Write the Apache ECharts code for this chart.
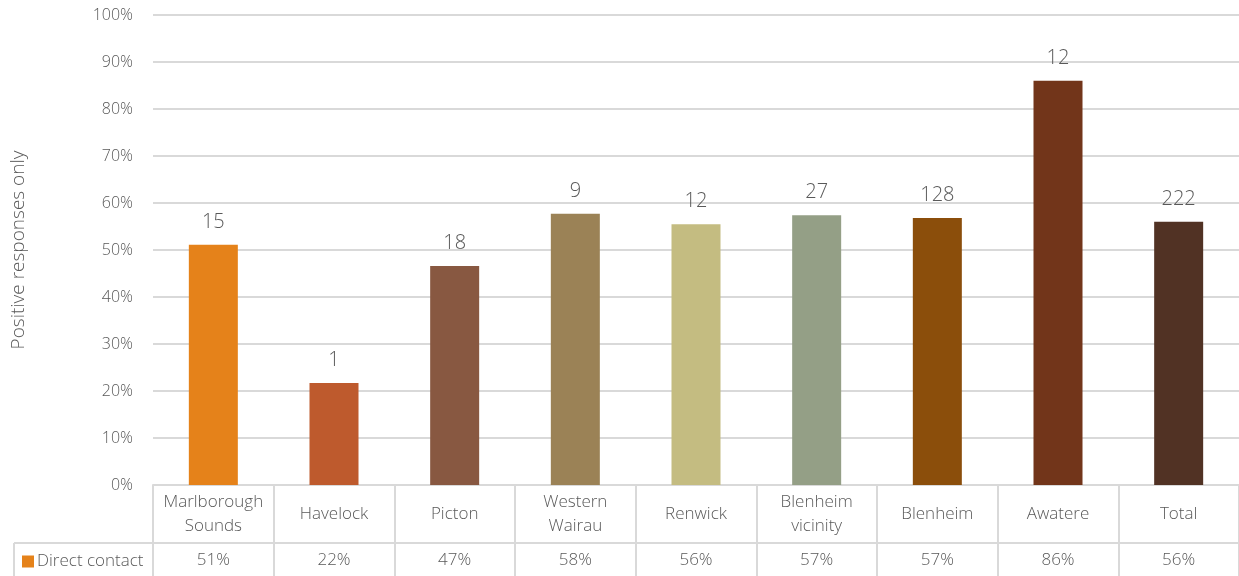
<!DOCTYPE html>
<html>
<head>
<meta charset="utf-8">
<script src="https://cdn.jsdelivr.net/npm/echarts@6/dist/echarts.min.js"></script>
<style>html,body{margin:0;padding:0;background:#fff}#c{width:1239px;height:576px}</style>
</head>
<body>
<div id="c"></div>
<script>
const categories = ['Marlborough\nSounds', 'Havelock', 'Picton', 'Western\nWairau', 'Renwick', 'Blenheim\nvicinity', 'Blenheim', 'Awatere', 'Total'];
const directContact = [51.1, 21.7, 46.6, 57.7, 55.5, 57.4, 56.8, 86.0, 56.0];
const tableValues = ['51%', '22%', '47%', '58%', '56%', '57%', '57%', '86%', '56%'];
const sampleSizes = [15, 1, 18, 9, 12, 27, 128, 12, 222];
const barColors = ['#E5821A', '#BE5A2D', '#885841', '#9B8256', '#C4BC81', '#949F86', '#8B4E0B', '#72351A', '#513224'];
const yTicks = [0, 10, 20, 30, 40, 50, 60, 70, 80, 90, 100];

const FONT = "'Open Sans', 'Noto Sans', sans-serif";
const FW = 300;
const TXT = '#595959';
const LINE = '#d9d9d9';

const chart = echarts.init(document.getElementById('c'), null, {renderer: 'canvas'});
chart.setOption({
  animation: false,
  backgroundColor: '#ffffff',
  textStyle: {fontFamily: FONT, fontWeight: FW},
  grid: {left: 153, right: 0, top: 15, bottom: 91, containLabel: false, outerBoundsMode: 'none'},
  legend: {
    show: true,
    left: 17, top: 548,
    icon: 'rect', itemWidth: 12, itemHeight: 12, itemGap: 4,
    textStyle: {fontFamily: FONT, fontWeight: FW, fontSize: 17, color: TXT, padding: [0, 0, 0, -2]},
    data: ['Direct contact']
  },
  xAxis: [{
    type: 'category',
    data: categories,
    position: 'bottom',
    axisLine: {show: true, lineStyle: {color: LINE, width: 2}},
    axisTick: {show: true, interval: 0, length: 92, lineStyle: {color: LINE, width: 2}},
    axisLabel: {interval: 0, margin: 29, verticalAlign: 'middle', fontFamily: FONT, fontWeight: FW, fontSize: 17, color: TXT, lineHeight: 24}
  }, {
    type: 'category',
    data: tableValues,
    position: 'bottom',
    offset: 58,
    axisLine: {show: true, lineStyle: {color: LINE, width: 2}},
    axisTick: {show: false},
    axisLabel: {interval: 0, margin: 17, verticalAlign: 'middle', fontFamily: FONT, fontWeight: FW, fontSize: 17, color: TXT}
  }],
  yAxis: {
    type: 'value',
    min: yTicks[0], max: yTicks[yTicks.length - 1], interval: 10,
    name: 'Positive responses only',
    nameLocation: 'middle', nameRotate: 90, nameGap: 125,
    nameTextStyle: {fontFamily: FONT, fontWeight: FW, fontSize: 19, color: TXT},
    axisLine: {show: false}, axisTick: {show: false},
    axisLabel: {formatter: '{value}%', margin: 20, fontFamily: FONT, fontWeight: FW, fontSize: 16, color: TXT},
    splitLine: {show: true, lineStyle: {color: LINE, width: 2}}
  },
  graphic: [
    {type: 'line', shape: {x1: 14, y1: 543, x2: 153, y2: 543}, style: {stroke: LINE, lineWidth: 2}},
    {type: 'line', shape: {x1: 14, y1: 543, x2: 14, y2: 580}, style: {stroke: LINE, lineWidth: 2}}
  ],
  series: [{
    name: 'Direct contact',
    type: 'bar',
    xAxisIndex: 0,
    barWidth: 49,
    itemStyle: {color: barColors[0]},
    data: directContact.map((v, i) => ({value: v, itemStyle: {color: barColors[i]}})),
    label: {
      show: true, position: 'top', distance: 13,
      fontFamily: FONT, fontWeight: FW, fontSize: 20, color: TXT,
      formatter: p => String(sampleSizes[p.dataIndex])
    }
  }]
});
</script>
</body>
</html>
